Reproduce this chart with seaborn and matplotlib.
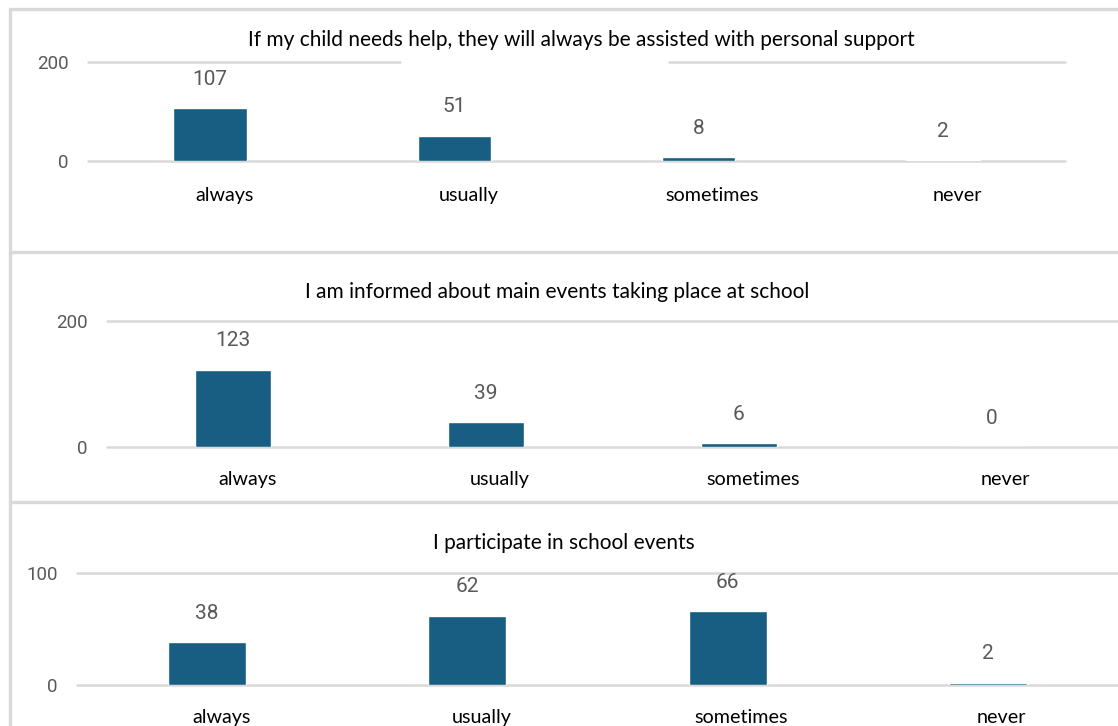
import matplotlib
matplotlib.use("Agg")
import matplotlib.pyplot as plt
import matplotlib.transforms as mtransforms
from matplotlib.lines import Line2D
import seaborn as sns

# survey answers, same for all three questions
categories = ["always", "usually", "sometimes", "never"]

titles = [
    "If my child needs help, they will always be assisted with personal support",
    "I am informed about main events taking place at school",
    "I participate in school events",
]
help_counts = [107, 51, 8, 2]
informed_counts = [123, 39, 6, 0]
participate_counts = [38, 62, 66, 2]
y_ticks = [[0, 200], [0, 200], [0, 100]]

BAR = "#175e82"
GRID = "#d9d9d9"
NUM = "#595959"

W, H = 1118, 726

sns.set_style("white")
plt.rcParams["font.family"] = ["Lato", "DejaVu Sans"]
num_font = ["Roboto", "DejaVu Sans"]

fig = plt.figure(figsize=(W / 100, H / 100), dpi=100)


def px_axes(left, top, right, bottom):
    # pixel box -> figure fraction rect
    return [left / W, 1 - bottom / H, (right - left) / W, (bottom - top) / H]


# (left, y of top tick, right, y of zero) in pixels, title centre, label pad
panels = [
    dict(box=(88, 62, 1065, 161), title=(581, 40), pad=19, gap=(400, 669)),
    dict(box=(107, 321, 1118, 447), title=(557, 292), pad=17, gap=None),
    dict(box=(77, 573, 1118, 685), title=(564, 543), pad=17, gap=None),
]
all_counts = [help_counts, informed_counts, participate_counts]

for p, counts, title, ticks in zip(panels, all_counts, titles, y_ticks):
    l, t, r, b = p["box"]
    ax = fig.add_axes(px_axes(l, t, r, b))
    sns.barplot(x=categories, y=counts, color=BAR, saturation=1,
                width=0.3, ax=ax, zorder=3)
    ax.set_ylim(ticks[0], ticks[-1])
    ax.set_xlim(-0.5, len(categories) - 0.5)
    ax.set_yticks(ticks)
    ax.set_yticklabels([str(v) for v in ticks], color=NUM, fontsize=13.5,
                       family=num_font)
    ax.tick_params(axis="y", length=0, pad=14)
    ax.tick_params(axis="x", length=0, pad=p["pad"], labelsize=14.2, labelcolor="black")
    for lab in ax.get_xticklabels():
        lab.set_transform(lab.get_transform() +
                          mtransforms.ScaledTranslation(0.14, 0, fig.dpi_scale_trans))
    sns.despine(ax=ax, left=True, bottom=True, top=True, right=True)
    ax.set_xlabel("")
    ax.set_ylabel("")

    # horizontal gridlines (the top one of the first chart is broken under its title)
    ax.axhline(ticks[0], color=GRID, lw=1.8, zorder=1, clip_on=False)
    if p["gap"]:
        g0 = (p["gap"][0] - l) / (r - l)
        g1 = (p["gap"][1] - l) / (r - l)
        ax.axhline(ticks[-1], 0, g0, color=GRID, lw=1.8, zorder=1, clip_on=False)
        ax.axhline(ticks[-1], g1, 1, color=GRID, lw=1.8, zorder=1, clip_on=False)
    else:
        ax.axhline(ticks[-1], color=GRID, lw=1.8, zorder=1, clip_on=False)

    for cont in ax.containers:
        ax.bar_label(cont, labels=[str(v) for v in counts], padding=14,
                     color=NUM, fontsize=15, family=num_font, clip_on=False)

    fig.text(p["title"][0] / W, 1 - p["title"][1] / H, title,
             ha="center", va="center", fontsize=15, color="black")

# panel frames
frame = dict(color=GRID, lw=2.4, transform=fig.transFigure)
fig.add_artist(Line2D([10 / W, 1], [1 - 9 / H, 1 - 9 / H], **frame))
fig.add_artist(Line2D([10 / W, 10 / W], [1 - 9 / H, 0], **frame))
fig.add_artist(Line2D([10 / W, 1], [1 - 252 / H, 1 - 252 / H], **frame))
fig.add_artist(Line2D([10 / W, 1], [1 - 502 / H, 1 - 502 / H], **frame))

fig.savefig("out.png", dpi=100)
